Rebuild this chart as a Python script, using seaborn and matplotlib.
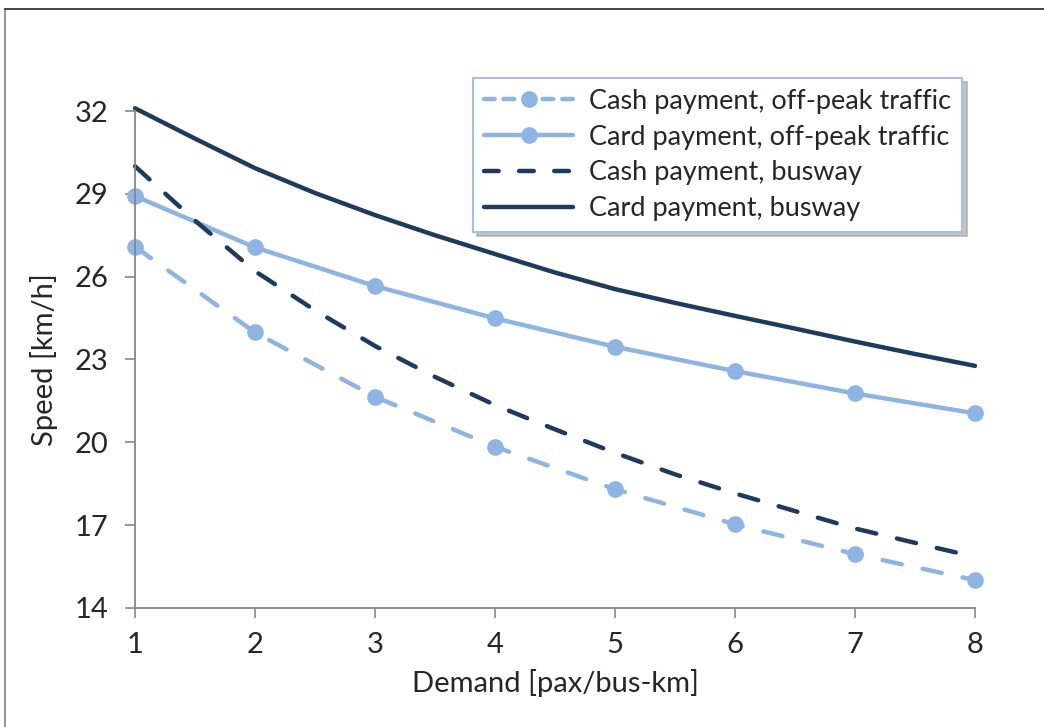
import numpy as np
import pandas as pd
import matplotlib
matplotlib.use('Agg')
import matplotlib.pyplot as plt
from matplotlib.lines import Line2D
import seaborn as sns

# data
demand = [1, 2, 3, 4, 5, 6, 7, 8]
cash_offpeak = [27.08, 23.98, 21.65, 19.84, 18.30, 17.03, 15.95, 15.01]
card_offpeak = [28.92, 27.06, 25.66, 24.49, 23.46, 22.58, 21.77, 21.05]

# busway curves have no markers; read at half steps to keep the curve shape
demand_fine = [1, 1.5, 2, 2.5, 3, 3.5, 4, 4.5, 5, 5.5, 6, 6.5, 7, 7.5, 8]
cash_busway = [30.0, 28.03, 26.2, 24.78, 23.49, 22.37, 21.35, 20.47, 19.62,
               18.84, 18.15, 17.51, 16.88, 16.36, 15.85]
card_busway = [32.1, 31.0, 29.93, 29.03, 28.23, 27.5, 26.82, 26.15, 25.55,
               25.05, 24.58, 24.12, 23.65, 23.2, 22.77]

labels = ['Cash payment, off-peak traffic', 'Card payment, off-peak traffic',
          'Cash payment, busway', 'Card payment, busway']

light = '#8DB4E2'
dark = '#1F3A5F'

sns.set_style('white')
plt.rcParams['font.family'] = ['Lato', 'DejaVu Sans']

fig = plt.figure(figsize=(10.44, 7.27), dpi=100)
ax = fig.add_axes([135 / 1044, 1 - 608 / 727, (975 - 135) / 1044, (608 - 111) / 727])

lw = 3.2
dash = (4.4, 4.8)

sns.lineplot(x=demand, y=cash_offpeak, ax=ax, color=light, lw=lw,
             marker='o', markersize=12, markeredgewidth=0)
sns.lineplot(x=demand, y=card_offpeak, ax=ax, color=light, lw=lw,
             marker='o', markersize=12, markeredgewidth=0)
sns.lineplot(x=demand_fine, y=cash_busway, ax=ax, color=dark, lw=lw)
sns.lineplot(x=demand_fine, y=card_busway, ax=ax, color=dark, lw=lw)

# dashed series styled after drawing (seaborn resets dashes otherwise)
for i in (0, 2):
    ax.lines[i].set_linestyle((0, dash))
    ax.lines[i].set_dash_capstyle('round')
ax.lines[3].set_solid_capstyle('round')

ax.set_xlim(1, 8)
ax.set_ylim(14, 32)
ax.set_xticks(demand)
ax.set_yticks([14, 17, 20, 23, 26, 29, 32])
ax.set_xlabel('Demand [pax/bus-km]', fontsize=21, labelpad=8)
ax.set_ylabel('Speed [km/h]', fontsize=21, labelpad=12)
ax.tick_params(axis='both', which='both', direction='out', length=7,
               width=1.2, color='#868686', labelsize=21)
ax.tick_params(axis='y', pad=12)
ax.tick_params(axis='x', pad=10)
ax.xaxis.set_ticks_position('bottom')
ax.yaxis.set_ticks_position('left')
for side in ['top', 'right']:
    ax.spines[side].set_visible(False)
for side in ['left', 'bottom']:
    ax.spines[side].set_color('#868686')
    ax.spines[side].set_linewidth(1.3)
for line in ax.lines:
    line.set_clip_on(False)

handles = [
    Line2D([], [], color=light, lw=lw, marker='o', markersize=12, markeredgewidth=0,
           linestyle=(0, (2.4, 2.0)), dash_capstyle='round'),
    Line2D([], [], color=light, lw=lw, marker='o', markersize=12, markeredgewidth=0),
    Line2D([], [], color=dark, lw=lw, linestyle=(0, (3.3, 4.6)), dash_capstyle='round'),
    Line2D([], [], color=dark, lw=lw),
]
leg = ax.legend(handles, labels, loc='upper left', bbox_to_anchor=(473 / 1044, 1 - 78 / 727),
                bbox_transform=fig.transFigure, fontsize=19.5, frameon=True, fancybox=False,
                shadow={'color': '#a0a0a0', 'alpha': 0.6, 'ox': 3, 'oy': -3},
                handlelength=3.3, handletextpad=0.6, labelspacing=0.4,
                borderpad=0.4, borderaxespad=0)
leg.get_frame().set_edgecolor('#A7BFDE')
leg.get_frame().set_linewidth(1.5)

# outer chart border (left and top visible in the reference)
fig.add_artist(Line2D([5 / 1044, 5 / 1044], [0, 1 - 9 / 727], color='#7f7f7f', lw=1.2))
fig.add_artist(Line2D([5 / 1044, 1], [1 - 9 / 727, 1 - 9 / 727], color='#222222', lw=1.2))

fig.savefig('out.png', dpi=100)
